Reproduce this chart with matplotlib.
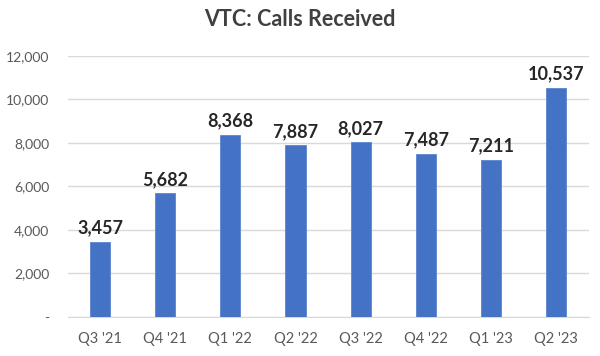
import matplotlib
matplotlib.use("Agg")
import matplotlib.pyplot as plt
from matplotlib.ticker import FuncFormatter

categories = ["Q3 '21", "Q4 '21", "Q1 '22", "Q2 '22", "Q3 '22", "Q4 '22", "Q1 '23", "Q2 '23"]
calls = [3457, 5682, 8368, 7887, 8027, 7487, 7211, 10537]
yticks = [0, 2000, 4000, 6000, 8000, 10000, 12000]

plt.rcParams['font.family'] = ['Lato', 'DejaVu Sans']

fig = plt.figure(figsize=(6, 3.56), dpi=100)
ax = fig.add_axes([0.1125, 0.1096, 0.8685, 0.7334])

x = range(len(categories))
bars = ax.bar(x, calls, width=0.31, color='#4472C4', edgecolor='#5B85D0', linewidth=0.6, zorder=3)
for xi, v in zip(x, calls):
    ax.text(xi, v + 250, f"{v:,}", ha='center', va='bottom', fontsize=13, fontweight='bold', color='#262626')

ax.set_xlim(-0.5, len(categories) - 0.5)
ax.set_ylim(0, 12000)
ax.set_yticks(yticks)
ax.yaxis.set_major_formatter(FuncFormatter(lambda v, p: '-' if v == 0 else f"{int(v):,}"))
ax.set_xticks(list(x))
ax.set_xticklabels(categories)
ax.grid(axis='y', color='#D9D9D9', linewidth=1, zorder=0)
for s in ['top', 'right', 'left']:
    ax.spines[s].set_visible(False)
ax.spines['bottom'].set_color('#D9D9D9')
ax.tick_params(axis='x', length=0, labelsize=10.5, colors='#595959', pad=11)
ax.tick_params(axis='y', length=0, labelsize=10, colors='#595959', pad=13)

fig.text(0.5, 0.944, "VTC: Calls Received", ha='center', va='center', fontsize=15.5, fontweight='bold', color='#404040')

fig.savefig("out.png", dpi=100)
